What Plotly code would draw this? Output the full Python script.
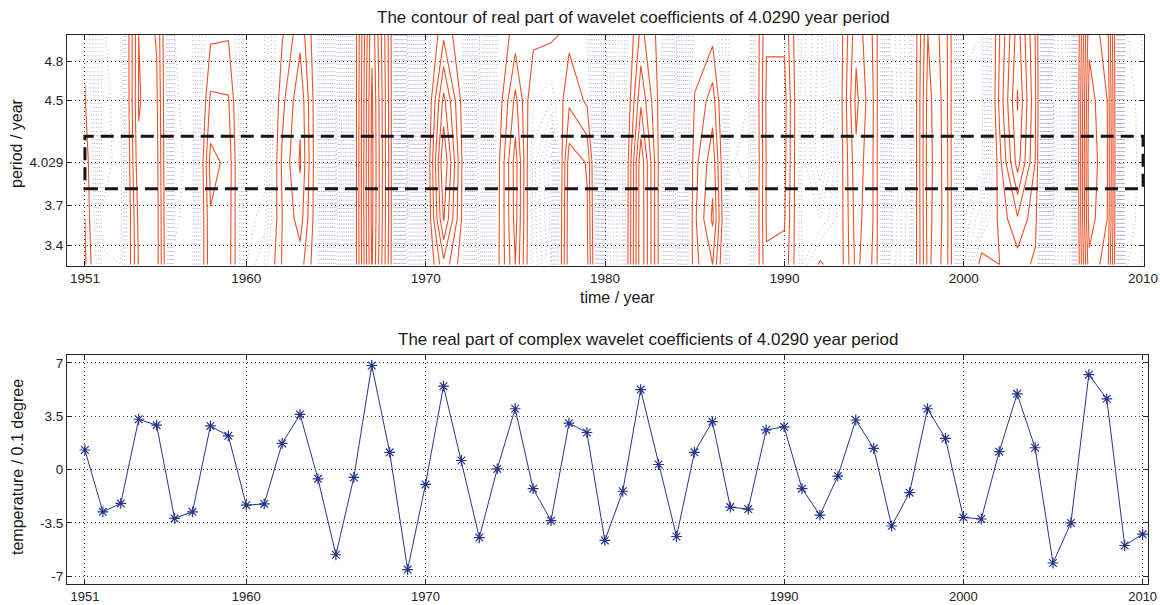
import plotly.graph_objects as go

W, H = 1160, 605

years = list(range(1951, 2011))
period_main = 4.029
half_band = 0.2

# real part of wavelet coefficients at 4.0290 year period (bottom panel)
real_part = [1.28, -2.78, -2.23, 3.30, 2.91, -3.21, -2.78, 2.86, 2.21, -2.34,
             -2.26, 1.71, 3.62, -0.61, -5.60, -0.52, 6.83, 1.13, -6.57, -0.98,
             5.47, 0.59, -4.47, 0.04, 3.99, -1.26, -3.36, 3.04, 2.43, -4.66,
             -1.43, 5.25, 0.33, -4.40, 1.13, 3.15, -2.47, -2.60, 2.60, 2.80,
             -1.26, -2.99, -0.43, 3.25, 1.39, -3.71, -1.52, 3.99, 2.04, -3.15,
             -3.25, 1.17, 4.97, 1.43, -6.14, -3.51, 6.23, 4.64, -4.99, -4.25]

# contour field rows (periods in years)
periods = [3.25, 3.6, 4.029, 4.5, 5.0]
row_325 = [1.7, -1.8, -2.0, 2.6, 3.0, -2.9, -2.5, 2.3, 2.0, -2.0,
           -1.0, 1.6, 2.0, -0.5, -5.2, -0.5, 6.6, 1.0, -6.2, -1.0,
           2.2, 0.0, -4.2, 0.2, 3.5, -1.1, -3.0, 3.2, 2.8, -4.4,
           -1.3, 5.3, 0.3, -4.2, 1.2, 2.5, -2.3, -2.3, 2.4, 2.2,
           -1.0, 0.7, -0.4, 2.8, 1.3, -3.4, -1.4, 3.8, 2.0, -2.8,
           1.2, 0.5, 1.0, 0.3, -5.6, -3.2, 5.2, 4.0, -4.6, -3.9]
row_360 = [1.5, -2.4, -2.2, 2.8, 3.0, -3.1, -2.7, 2.4, 2.1, -2.2,
           -1.8, 1.5, 3.0, -0.5, -5.5, -0.5, 6.8, 1.1, -6.5, -1.0,
           4.6, 0.5, -4.4, 0.1, 3.9, -1.2, -3.2, 3.2, 2.6, -4.6,
           -1.4, 5.3, 0.3, -4.3, 1.3, 3.7, -2.4, -2.4, 2.6, 2.6,
           -1.2, -1.5, -0.4, 3.0, 1.4, -3.6, -1.5, 3.9, 2.1, -3.0,
           -1.5, 0.8, 2.4, 0.8, -6.0, -3.4, 6.0, 4.5, -4.9, -4.2]
row_450 = [0.6, -2.8, -2.1, 3.6, 2.7, -3.1, -2.7, 1.7, 1.6, -2.2,
           -2.2, 1.2, 3.3, -0.6, -5.5, -0.5, 6.7, 1.1, -6.4, -1.0,
           3.8, 0.3, -4.3, -0.3, 2.8, -0.5, -1.0, 1.3, 0.3, -4.5,
           -1.4, 3.3, 0.3, -4.3, 0.6, 2.0, -2.4, -2.5, 2.7, 2.9,
           -1.3, -2.9, -0.4, 3.8, 1.4, -3.6, -1.5, 3.9, 2.0, -3.1,
           -3.2, 1.8, 5.6, 1.6, -6.0, -3.4, 6.0, 4.5, -4.9, -4.2]
row_500 = [0.2, -2.6, -2.0, 3.5, 2.4, -3.0, -2.5, 0.3, 0.4, -2.0,
           -2.0, 0.4, 2.2, -0.6, -5.2, -0.5, 6.3, 1.0, -6.0, -1.2,
           1.3, -0.3, -4.0, -0.5, 1.0, 0.8, 0.7, 0.2, -0.6, -4.2,
           -1.3, 1.8, 0.2, -4.0, -0.2, 0.2, -2.2, -2.3, 2.4, 2.3,
           -1.2, -2.7, -0.4, 3.2, 1.3, -3.4, -1.4, 3.5, 1.9, -2.9,
           -3.0, 1.5, 5.0, 1.4, -5.6, -3.2, 5.2, 4.0, -4.6, -3.9]
field = [row_325, row_360, real_part, row_450, row_500]

top_yticks = [3.4, 3.7, 4.029, 4.5, 4.8]
top_xticks = [1951, 1960, 1970, 1980, 1990, 2000, 2010]
bot_xticks = [1951, 1960, 1970, 1990, 2000, 2010]
bot_yticks = [-7, -3.5, 0, 3.5, 7]

RED = "#ee5028"
BLUE = "rgba(50,50,165,0.45)"
NAVY = "#27348b"
FONT = "Liberation Sans, Arial, sans-serif"

fig = go.Figure()

fig.add_trace(go.Contour(
    x=years, y=periods, z=field,
    contours=dict(start=-7, end=-0.5, size=0.5, coloring="none"),
    line=dict(color=BLUE, width=0.9, dash="1px,3px", smoothing=0),
    showscale=False, hoverinfo="skip", xaxis="x", yaxis="y"))
fig.add_trace(go.Contour(
    x=years, y=periods, z=field,
    contours=dict(start=0.5, end=6.5, size=1, coloring="none"),
    line=dict(color=RED, width=1.1, smoothing=0),
    showscale=False, hoverinfo="skip", xaxis="x", yaxis="y"))

fig.add_trace(go.Scatter(
    x=years, y=real_part, mode="lines+markers",
    line=dict(color=NAVY, width=1),
    marker=dict(symbol="asterisk-open", size=9, color=NAVY,
                line=dict(color=NAVY, width=1.2)),
    hoverinfo="skip", xaxis="x2", yaxis="y2"))

fig.add_shape(type="rect", xref="x", yref="y",
              x0=years[0], x1=years[-1],
              y0=period_main - half_band, y1=period_main + half_band,
              line=dict(color="#151515", width=3, dash="13px,7px"),
              layer="above")

axis_common = dict(showline=True, mirror="ticks", linecolor="#262626", linewidth=1,
                   ticks="inside", ticklen=5, tickcolor="#262626", tickwidth=1,
                   showgrid=True, gridcolor="#3a3a3a", gridwidth=0.8, griddash="1px,3px",
                   zeroline=False, automargin=False,
                   tickfont=dict(family=FONT, size=13.5, color="#222"))

def px_x(v):
    return v / W

def px_y(v):
    return 1 - v / H

fig.update_layout(
    template="none",
    width=W, height=H, autosize=False, margin=dict(l=0, r=0, t=0, b=0, pad=0),
    paper_bgcolor="white", plot_bgcolor="white", showlegend=False,
    xaxis=dict(domain=[px_x(67), px_x(1144)], range=[1950, 2010.05], anchor="y",
               tickvals=top_xticks, ticktext=[str(v) for v in top_xticks], **axis_common),
    yaxis=dict(domain=[px_y(266), px_y(35)], range=[3.24, 5.0], anchor="x",
               tickvals=top_yticks, ticktext=[f"{v:g}" for v in top_yticks], **axis_common),
    xaxis2=dict(domain=[px_x(67), px_x(1148)], range=[1950, 2010.3], anchor="y2",
                tickvals=bot_xticks, ticktext=[str(v) for v in bot_xticks], **axis_common),
    yaxis2=dict(domain=[px_y(584), px_y(355)], range=[-7.52, 7.52], anchor="x2",
                tickvals=bot_yticks, ticktext=[f"{v:g}" for v in bot_yticks], **axis_common),
)
fig.update_xaxes(tickfont_size=13, selector=dict(anchor="y2"))

annots = [
    ("The contour of real part of wavelet coefficients of 4.0290 year period", 633, 18, 0, 17),
    ("time / year", 617, 297, 0, 16),
    ("period / year", 17, 143, -90, 16),
    ("The real part of complex wavelet coefficients of 4.0290 year period", 648, 339, 0, 17),
    ("temperature / 0.1 degree", 17, 467, -90, 16),
]
for text, ax, ay, ang, fs in annots:
    fig.add_annotation(text=text, x=px_x(ax), y=px_y(ay), xref="paper", yref="paper",
                       showarrow=False, textangle=ang, xanchor="center", yanchor="middle",
                       font=dict(family=FONT, size=fs, color="#1a1a1a"))

fig.write_html("out.html", config={"responsive": False})
